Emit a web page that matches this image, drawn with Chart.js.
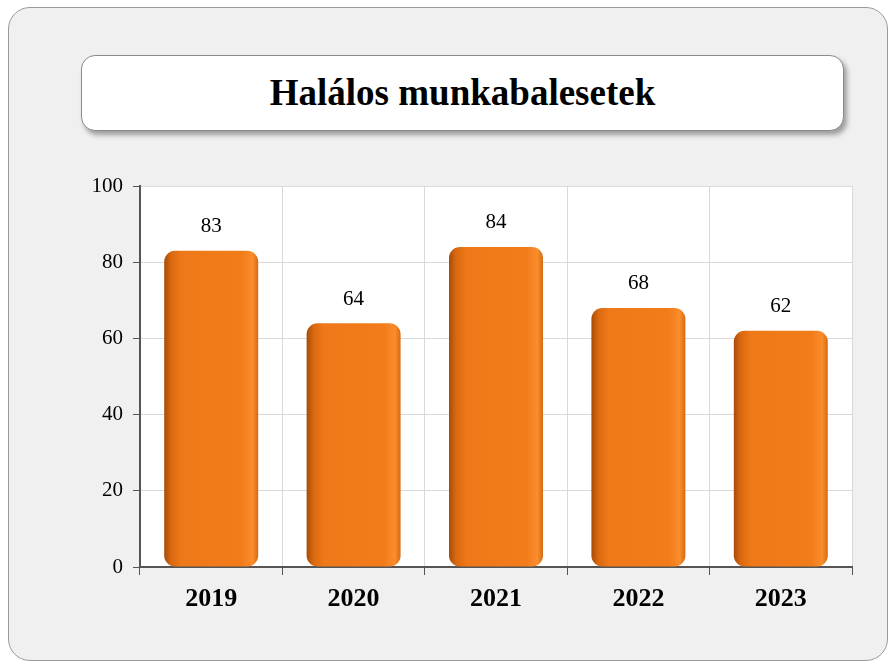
<!DOCTYPE html>
<html>
<head>
<meta charset="utf-8">
<script src="https://cdn.jsdelivr.net/npm/chart.js@4/dist/chart.umd.min.js"></script>
<style>
    body { margin: 0; background: #ffffff; }
    #wrap { position: relative; width: 892px; height: 670px; }
    #panel {
        position: absolute; left: 8px; top: 7px; width: 880px; height: 654px;
        background: #f0f0f0; border: 1px solid #9a9a9a; border-radius: 22px; box-sizing: border-box;
    }
    #titleBox {
        position: absolute; left: 81px; top: 55px; width: 763px; height: 76px;
        background: #ffffff; border: 1px solid #8a8a8a; border-radius: 14px; box-sizing: border-box;
        box-shadow: 3px 4px 5px rgba(0, 0, 0, 0.35);
        font-family: "Liberation Serif", "Times New Roman", serif; font-weight: bold; font-size: 37px;
        color: #000; text-align: center; line-height: 74px;
    }
    #chart { position: absolute; left: 0; top: 0; }
</style>
</head>
<body>
<div id="wrap">
    <div id="panel"></div>
    <div id="titleBox">Halálos munkabalesetek</div>
    <canvas id="chart" width="892" height="670"></canvas>
</div>
<script>
// Adatok
const evek = ['2019', '2020', '2021', '2022', '2023'];
const halalos = [83, 64, 84, 68, 62];
const yTicks = [0, 20, 40, 60, 80, 100];

const serif = '"Liberation Serif", "Times New Roman", serif';

// Fehér rajzterület
const plotBackground = {
    id: 'plotBackground',
    beforeDraw(chart) {
        const { ctx, chartArea } = chart;
        ctx.save();
        ctx.fillStyle = '#ffffff';
        ctx.fillRect(chartArea.left, chartArea.top, chartArea.right - chartArea.left, chartArea.bottom - chartArea.top);
        ctx.restore();
    }
};

// Értékcímkék az oszlopok fölött
const valueLabels = {
    id: 'valueLabels',
    afterDatasetsDraw(chart) {
        const { ctx } = chart;
        const meta = chart.getDatasetMeta(0);
        ctx.save();
        ctx.font = '21px ' + serif;
        ctx.fillStyle = '#000';
        ctx.textAlign = 'center';
        ctx.textBaseline = 'middle';
        meta.data.forEach((bar, i) => {
            ctx.fillText(String(halalos[i]), bar.x, bar.y - 24);
        });
        ctx.restore();
    }
};

// Narancs színátmenet az oszlopokon
function barGradient(context) {
    const chart = context.chart;
    const { chartArea, scales } = chart;
    if (!chartArea) return '#f07a1a';
    const x = scales.x.getPixelForValue(context.dataIndex);
    const hw = (scales.x.width / evek.length) * 0.66 / 2;
    const g = chart.ctx.createLinearGradient(x - hw, 0, x + hw, 0);
    g.addColorStop(0, '#a64c08');
    g.addColorStop(0.07, '#d8680f');
    g.addColorStop(0.18, '#ef7818');
    g.addColorStop(0.82, '#f27b1a');
    g.addColorStop(0.94, '#fb8d2c');
    g.addColorStop(1, '#d56a12');
    return g;
}

new Chart(document.getElementById('chart').getContext('2d'), {
    type: 'bar',
    data: {
        labels: evek,
        datasets: [{
            data: halalos,
            backgroundColor: barGradient,
            borderRadius: 11,
            borderSkipped: false,
            categoryPercentage: 0.66,
            barPercentage: 1
        }]
    },
    options: {
        responsive: false,
        animation: false,
        layout: { padding: { left: 80, top: 186, right: 40, bottom: 53 } },
        plugins: {
            legend: { display: false },
            tooltip: { enabled: false }
        },
        scales: {
            x: {
                afterFit: (scale) => { scale.height = 50; },
                grid: {
                    color: '#d9d9d9',
                    tickColor: '#555555',
                    tickLength: 8,
                    offset: true
                },
                border: { color: '#555555', width: 2 },
                ticks: {
                    color: '#000',
                    padding: 9,
                    font: { family: serif, size: 26, weight: 'bold' }
                }
            },
            y: {
                min: 0,
                max: 100,
                afterFit: (scale) => { scale.width = 60; },
                afterBuildTicks: (scale) => { scale.ticks = yTicks.map(v => ({ value: v })); },
                grid: {
                    color: '#d9d9d9',
                    tickColor: '#555555',
                    tickLength: 7
                },
                border: { color: '#555555', width: 2 },
                ticks: {
                    color: '#000',
                    padding: 10,
                    font: { family: serif, size: 21 }
                }
            }
        }
    },
    plugins: [plotBackground, valueLabels]
});
</script>
</body>
</html>
